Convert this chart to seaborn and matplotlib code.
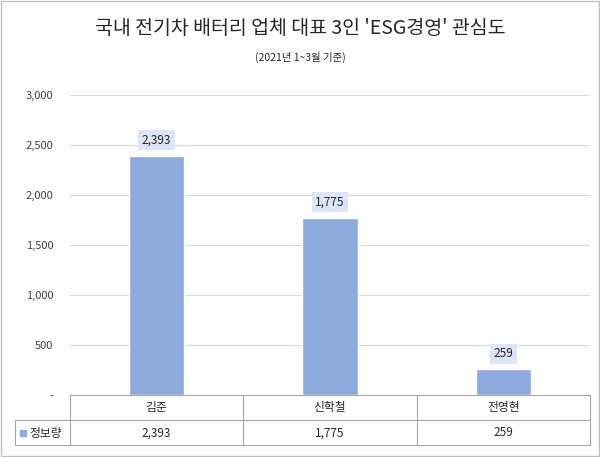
import matplotlib
matplotlib.use("Agg")
import matplotlib.pyplot as plt
import seaborn as sns
import pandas as pd
from matplotlib.lines import Line2D
from matplotlib.patches import Rectangle

categories = ["김준", "신학철", "전영현"]
values = [2393, 1775, 259]
series_name = "정보량"
yticks = [0, 500, 1000, 1500, 2000, 2500, 3000]
ytick_labels = ["-", "500", "1,000", "1,500", "2,000", "2,500", "3,000"]

sns.set_style("white")
plt.rcParams['font.family'] = ['Noto Sans CJK KR', 'DejaVu Sans']

W, H = 600, 457
fig = plt.figure(figsize=(6, 4.57), dpi=100)
def fx(x): return x / W
def fy(y): return 1 - y / H

ax = fig.add_axes([fx(70), fy(395), fx(590) - fx(70), fy(95) - fy(395)])
df = pd.DataFrame({"cat": categories, "val": values})
sns.barplot(data=df, x="cat", y="val", color="#8faadc", saturation=1, width=0.32, ax=ax)
ax.set_ylim(0, 3000)
ax.set_yticks(yticks)
ax.set_yticklabels(ytick_labels, fontsize=8, color="#404040")
ax.set_xticks([])
ax.set_xlabel(""); ax.set_ylabel("")
ax.grid(axis="y", color="#d9d9d9", lw=0.8)
ax.set_axisbelow(True)
for s in ax.spines.values():
    s.set_visible(False)
ax.tick_params(axis="y", length=0, pad=12)
for i, v in enumerate(values):
    ax.text(i, v + 90, f"{v:,}", ha="center", va="bottom", fontsize=8.5, color="#262626",
            bbox=dict(boxstyle="square,pad=0.3", fc="#dce6f4", ec="none"))

fig.text(0.5, fy(28), "국내 전기차 배터리 업체 대표 3인 'ESG경영' 관심도", ha="center", va="center", fontsize=14, color="#262626")
fig.text(0.5, fy(57), "(2021년 1~3월 기준)", ha="center", va="center", fontsize=7.5, color="#262626")

lc = "#a6a6a6"
def hl(x0, x1, y): fig.add_artist(Line2D([fx(x0), fx(x1)], [fy(y), fy(y)], color=lc, lw=0.8))
def vl(x, y0, y1): fig.add_artist(Line2D([fx(x), fx(x)], [fy(y0), fy(y1)], color=lc, lw=0.8))
hl(70, 590, 395); hl(15, 590, 420); hl(15, 590, 445)
vl(15, 420, 445)
for x in [70, 243, 417, 590]:
    vl(x, 395, 445)
cx = [156.5, 330, 503.5]
for c, name, v in zip(cx, categories, values):
    fig.text(fx(c), fy(408), name, ha="center", va="center", fontsize=8.5, color="#262626")
    fig.text(fx(c), fy(433), f"{v:,}", ha="center", va="center", fontsize=8.5, color="#262626")
fig.add_artist(Rectangle((fx(20), fy(436)), fx(6), fy(430) - fy(436), color="#8faadc", transform=fig.transFigure))
fig.text(fx(29), fy(433), series_name, ha="left", va="center", fontsize=8.5, color="#262626")
fig.add_artist(Rectangle((fx(1), fy(456)), fx(598), fy(1) - fy(456), fill=False, ec="#bfbfbf", lw=1, transform=fig.transFigure))

fig.savefig("out.png", dpi=100)
